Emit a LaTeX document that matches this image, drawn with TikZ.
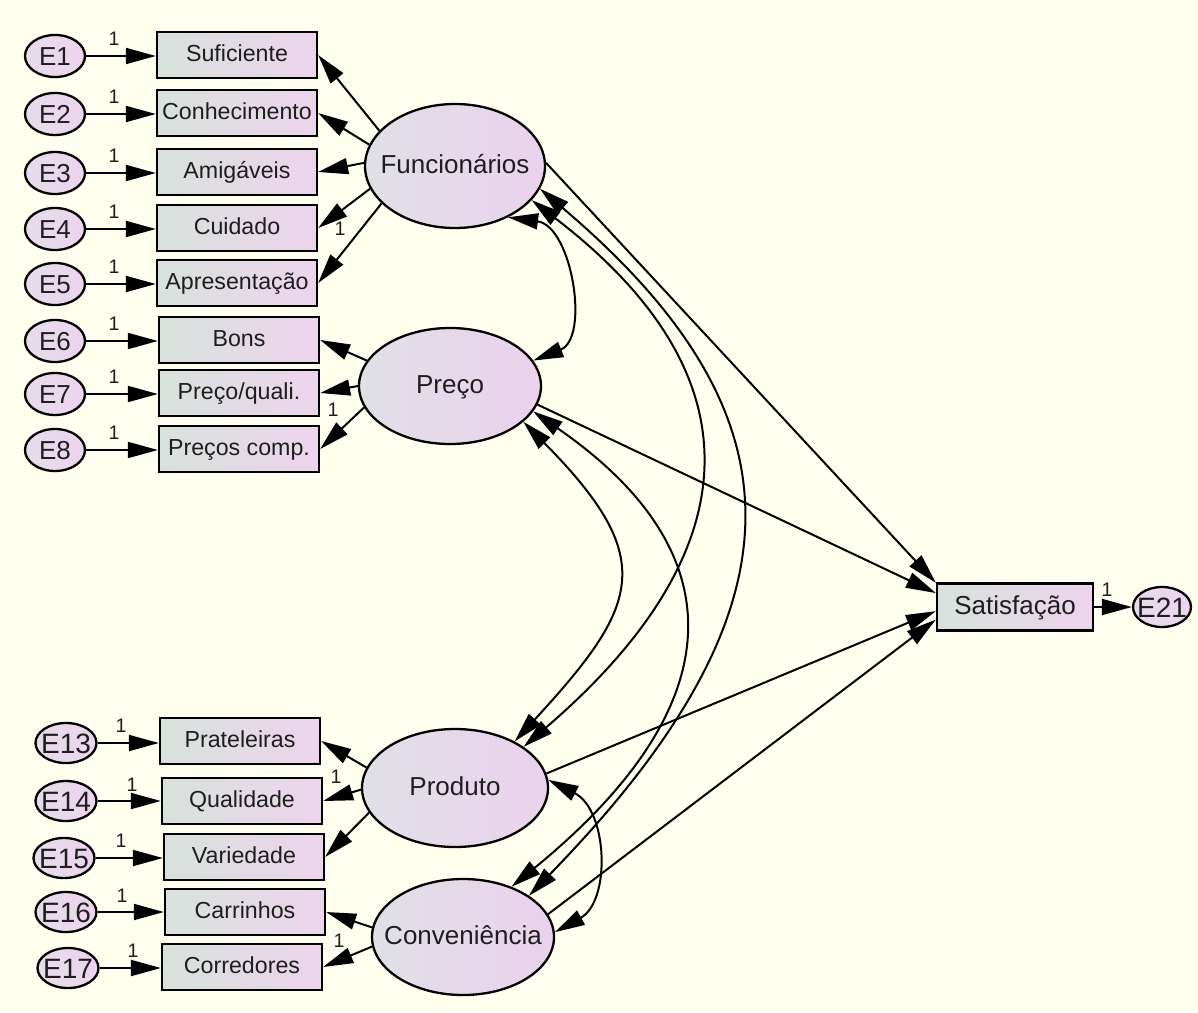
\documentclass[tikz,border=0pt]{standalone}
\usepackage{fontspec}
\setmainfont{Liberation Sans}
\usetikzlibrary{arrows.meta,shapes.geometric}
\definecolor{bgc}{RGB}{255,255,240}
\definecolor{boxL}{RGB}{216,226,220}
\definecolor{boxR}{RGB}{236,212,236}
\definecolor{latL}{RGB}{224,224,230}
\definecolor{latR}{RGB}{234,210,236}
\definecolor{errL}{RGB}{230,220,234}
\definecolor{errR}{RGB}{236,212,238}
\definecolor{txt}{RGB}{30,30,30}
\newcommand{\zw}[1]{\makebox[0pt]{#1}}
\begin{document}
\begin{tikzpicture}[x=0.5pt,y=-0.5pt,
  obs/.style={draw, line width=1.15pt, left color=boxL, right color=boxR, minimum width=80pt, minimum height=23pt, inner sep=0pt, text=txt, text height=8.6pt, text depth=2.2pt, font=\fontsize{11.6}{12}\selectfont},
  err/.style={ellipse, draw, line width=1.15pt, left color=errL, right color=errR, minimum width=30pt, minimum height=21pt, inner sep=0pt, text=txt, text height=9.4pt, text depth=0pt, font=\fontsize{13}{14}\selectfont},
  errb/.style={err, minimum width=30.5pt, minimum height=20pt, text height=10pt, font=\fontsize{14}{15}\selectfont},
  lat/.style={ellipse, draw, line width=1.15pt, left color=latL, right color=latR, inner sep=0pt, text=txt, text height=9.5pt, text depth=2.5pt, font=\fontsize{13}{14}\selectfont},
  onelab/.style={font=\fontsize{9.8}{10}\selectfont, inner sep=0pt, text=txt},
  reg/.style={line width=1pt, -{Triangle[length=15pt,width=8pt]}},
  cov/.style={line width=1pt, {Triangle[length=15pt,width=8pt]}-{Triangle[length=15pt,width=8pt]}},
]
\fill[bgc] (0,0) rectangle (1198,1012);
\useasboundingbox (0,0) rectangle (1198,1012);

% observed indicators (top)
\node[obs] (b1) at (237,55) {Suficiente};
\node[obs] (b2) at (237,113) {Conhecimento};
\node[obs] (b3) at (237,172) {Amigáveis};
\node[obs] (b4) at (237,228) {Cuidado};
\node[obs] (b5) at (237,283) {Apresentação};
\node[obs] (b6) at (239,340) {Bons};
\node[obs] (b7) at (239,393) {Preço/quali.};
\node[obs] (b8) at (239,449) {Preços comp.};
% errors (top)
\node[err] (e1) at (55,56) {\zw{E1}};
\node[err] (e2) at (55,114) {\zw{E2}};
\node[err] (e3) at (55,173) {\zw{E3}};
\node[err] (e4) at (55,229) {\zw{E4}};
\node[err] (e5) at (55,284) {\zw{E5}};
\node[err] (e6) at (55,341) {\zw{E6}};
\node[err] (e7) at (55,394) {\zw{E7}};
\node[err] (e8) at (55,450) {\zw{E8}};
\foreach \i in {1,...,8} {\draw[reg] (e\i.east) -- (b\i.west |- e\i.east);}
\node[onelab] (o1) at (114,39) {1};
\node[onelab] (o2) at (114,97) {1};
\node[onelab] (o3) at (114,156) {1};
\node[onelab] (o4) at (114,212) {1};
\node[onelab] (o5) at (114,267) {1};
\node[onelab] (o6) at (114,324) {1};
\node[onelab] (o7) at (114,377) {1};
\node[onelab] (o8) at (114,433) {1};

% observed indicators (bottom)
\node[obs] (b13) at (240,741) {Prateleiras};
\node[obs] (b14) at (242,801) {Qualidade};
\node[obs] (b15) at (244,857) {Variedade};
\node[obs] (b16) at (245,912) {Carrinhos};
\node[obs] (b17) at (242,967) {Corredores};
\node[errb] (e13) at (66,743) {\zw{E13}};
\node[errb] (e14) at (66,801) {\zw{E14}};
\node[errb] (e15) at (64,858) {\zw{E15}};
\node[errb] (e16) at (66,912) {\zw{E16}};
\node[errb] (e17) at (68,968) {\zw{E17}};
\foreach \i in {13,...,17} {\draw[reg] (e\i.east) -- (b\i.west |- e\i.east);}
\node[onelab] (o13) at (121,726) {1};
\node[onelab] (o14) at (132,785) {1};
\node[onelab] (o15) at (121,841) {1};
\node[onelab] (o16) at (122,896) {1};
\node[onelab] (o17) at (133,951) {1};

% latent variables
\node[lat, minimum width=90pt, minimum height=62pt] (F) at (455,166) {\zw{Funcionários}};
\node[lat, minimum width=91pt, minimum height=58pt] (P) at (450,386) {\zw{Preço}};
\node[lat, minimum width=93pt, minimum height=59pt] (D) at (455,788) {\zw{Produto}};
\node[lat, minimum width=91pt, minimum height=58pt] (C) at (463,937) {\zw{Conveniência}};

% outcome
\node[obs, minimum width=78pt, minimum height=23.5pt, font=\fontsize{13}{14}\selectfont, text height=9.5pt, text depth=2.5pt] (S) at (1015,607) {Satisfação};
\node[errb, minimum width=29pt, minimum height=20pt] (e21) at (1162,607) {\zw{E21}};
\draw[reg] (S.east) -- (e21.west);
\node[onelab] (o21) at (1107,590) {1};

% loadings
\draw[reg] (F.155) -- (b1.east);
\draw[reg] (F.166) -- (b2.east);
\draw[reg] (F.178) -- (b3.east);
\draw[reg] (F.195) -- (b4.east);
\draw[reg] (F.207) -- (b5.east);
\draw[reg] (P.163) -- (b6.east);
\draw[reg] (P.180) -- (b7.east);
\draw[reg] (P.194) -- (b8.east);
\draw[reg] (D.167) -- (b13.east);
\draw[reg] (D.181) -- (b14.east);
\draw[reg] (D.196) -- (b15.east);
\draw[reg] (C.174) -- (b16.east);
\draw[reg] (C.186) -- (b17.east);
\node[onelab] (oF) at (340,229) {1};
\node[onelab] (oP) at (333,410) {1};
\node[onelab] (oD) at (336,777) {1};
\node[onelab] (oC) at (339,941) {1};

% structural paths
\draw[reg] (F.2) -- (S.163);
\draw[reg] (P.-12) -- (S.170.5);
\draw[reg] (D.9) -- (S.183.7);
\draw[reg] (C.15) -- (S.189.5);

% covariances
\draw[cov] (F.-44) .. controls (572,226) and (590,338) .. (P.17);
\draw[cov] (F.-24) .. controls (770,383) and (741,560) .. (D.31);
\draw[cov] (F.-15) .. controls (809,417) and (808,609) .. (C.32);
\draw[cov] (P.-26) .. controls (659,559) and (640,605) .. (D.38);
\draw[cov] (P.-17) .. controls (731,548) and (740,700) .. (C.46);
\draw[cov] (D.5) .. controls (608,810) and (611,901) .. (C.3);
\end{tikzpicture}
\end{document}
